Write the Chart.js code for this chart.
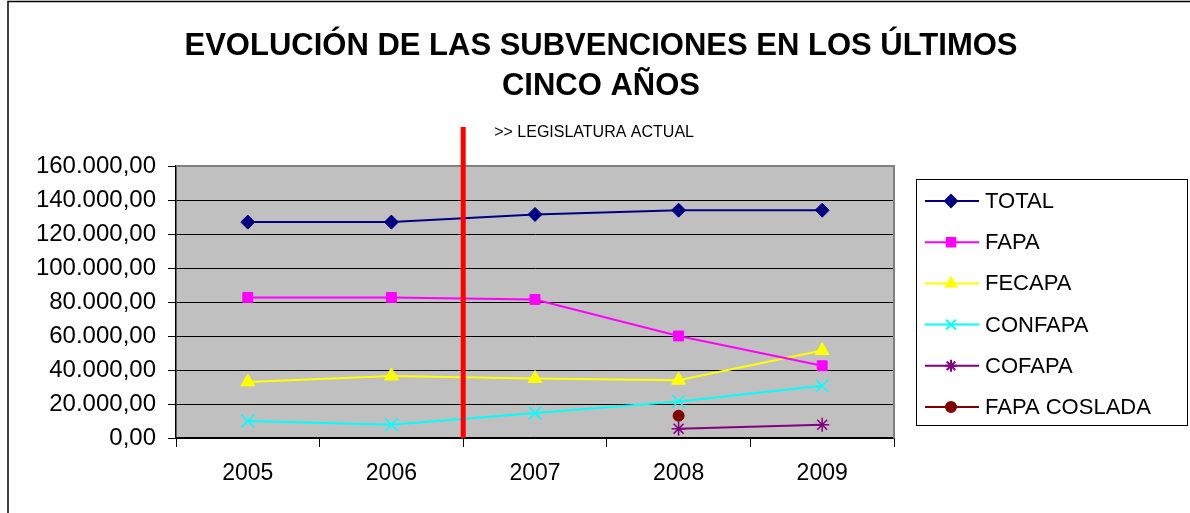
<!DOCTYPE html>
<html>
<head>
<meta charset="utf-8">
<script src="https://cdn.jsdelivr.net/npm/chart.js@4.4.0/dist/chart.umd.min.js"></script>
<style>
  html, body { margin: 0; padding: 0; background: #fff; }
  #wrap { width: 1190px; height: 513px; }
</style>
</head>
<body>
<div id="wrap"><canvas id="chart" width="1190" height="513"></canvas></div>
<script>
// datos
const years = ['2005', '2006', '2007', '2008', '2009'];
const total = [127000, 127000, 131500, 134000, 134000];
const fapa = [82700, 82700, 81500, 60000, 42500];
const fecapa = [33000, 36500, 35000, 34000, 51500];
const confapa = [10000, 7800, 14700, 21500, 30800];
const cofapa = [null, null, null, 5500, 7800];
const fapaCoslada = [null, null, null, 13100, null];
const yTicks = [0, 20000, 40000, 60000, 80000, 100000, 120000, 140000, 160000];

const titleLines = ['EVOLUCIÓN DE LAS SUBVENCIONES EN LOS ÚLTIMOS', 'CINCO AÑOS'];
const noteText = '>> LEGISLATURA ACTUAL';

// 160000 -> "160.000,00"
function fmt(v) {
  const s = Math.round(v).toString().replace(/\B(?=(\d{3})+(?!\d))/g, '.');
  return s + ',00';
}

function ds(label, data, color, style, radius) {
  return {
    label: label,
    data: data,
    borderColor: color,
    backgroundColor: color,
    borderWidth: 2,
    pointStyle: style,
    pointRadius: radius,
    pointHoverRadius: radius,
    pointBorderWidth: (style === 'crossRot' || style === 'star') ? 1.5 : 1,
    tension: 0,
    spanGaps: false
  };
}

const datasets = [
  ds('TOTAL', total, '#000080', 'rectRot', 7),
  ds('FAPA', fapa, '#FF00FF', 'rect', 7),
  ds('FECAPA', fecapa, '#FFFF00', 'triangle', 8),
  ds('CONFAPA', confapa, '#00FFFF', 'crossRot', 9),
  ds('COFAPA', cofapa, '#800080', 'star', 7),
  ds('FAPA COSLADA', fapaCoslada, '#800000', 'circle', 5.5)
];

const FONT = 'Arial, "Liberation Sans", sans-serif';

// fondo gris del area de trazado, marco y titulo
const decor = {
  id: 'decor',
  beforeDraw(chart) {
    const { ctx, chartArea: a } = chart;
    ctx.save();
    ctx.fillStyle = '#fff';
    ctx.fillRect(0, 0, chart.width, chart.height);
    ctx.fillStyle = '#C0C0C0';
    ctx.fillRect(a.left, a.top, a.right - a.left, a.bottom - a.top);
    // borde exterior
    ctx.strokeStyle = '#000';
    ctx.lineWidth = 1.5;
    ctx.strokeRect(8, 1.5, chart.width + 20, chart.height + 20);
    ctx.restore();
  },
  afterDatasetsDraw(chart) {
    const { ctx, chartArea: a, scales } = chart;
    const x = scales.x;
    ctx.save();
    // borde gris arriba y derecha
    ctx.strokeStyle = '#808080';
    ctx.lineWidth = 2;
    ctx.beginPath();
    ctx.moveTo(a.left, a.top);
    ctx.lineTo(a.right, a.top);
    ctx.lineTo(a.right, a.bottom);
    ctx.stroke();

    // linea roja entre 2006 y 2007
    const xr = (x.getPixelForValue(1) + x.getPixelForValue(2)) / 2;
    ctx.strokeStyle = '#FF0000';
    ctx.lineWidth = 5;
    ctx.beginPath();
    ctx.moveTo(xr, 127);
    ctx.lineTo(xr, a.bottom);
    ctx.stroke();

    ctx.fillStyle = '#000';
    ctx.font = '16px ' + FONT;
    ctx.textAlign = 'left';
    ctx.textBaseline = 'middle';
    ctx.fillText(noteText, xr + 31, 133);

    // titulo
    ctx.font = 'bold 31px ' + FONT;
    ctx.textAlign = 'center';
    ctx.fillText(titleLines[0], 601, 46);
    ctx.fillText(titleLines[1], 601, 86);
    ctx.restore();
  }
};

// leyenda a la derecha
const legendBox = {
  id: 'legendBox',
  afterDraw(chart) {
    const { ctx } = chart;
    const bx = 916, by = 179, bw = 271, bh = 246;
    ctx.save();
    ctx.fillStyle = '#fff';
    ctx.fillRect(bx, by, bw, bh);
    ctx.strokeStyle = '#000';
    ctx.lineWidth = 1;
    ctx.strokeRect(bx + 0.5, by + 0.5, bw, bh);
    ctx.font = '22px ' + FONT;
    ctx.textBaseline = 'middle';
    ctx.textAlign = 'left';
    chart.data.datasets.forEach((d, i) => {
      const cy = 201 + i * 41.2;
      ctx.strokeStyle = d.borderColor;
      ctx.lineWidth = 2;
      ctx.beginPath();
      ctx.moveTo(925, cy);
      ctx.lineTo(979, cy);
      ctx.stroke();
      const r = d.pointStyle === 'circle' ? 5 : (d.pointStyle === 'crossRot' ? 7 : 6);
      Chart.helpers.drawPoint(ctx, {
        pointStyle: d.pointStyle,
        radius: r,
        rotation: 0,
        borderWidth: d.pointBorderWidth
      }, 951, cy);
      ctx.fillStyle = d.borderColor;
      ctx.strokeStyle = d.borderColor;
      ctx.fill();
      ctx.fillStyle = '#000';
      ctx.fillText(d.label, 985, cy + 1);
    });
    ctx.restore();
  }
};

new Chart(document.getElementById('chart'), {
  type: 'line',
  data: { labels: years, datasets: datasets },
  options: {
    responsive: false,
    animation: false,
    events: [],
    layout: { padding: { top: 166, right: 296, left: 0, bottom: 0 } },
    plugins: {
      legend: { display: false },
      title: { display: false },
      tooltip: { enabled: false }
    },
    scales: {
      x: {
        type: 'category',
        offset: true,
        grid: {
          offset: true,
          drawOnChartArea: false,
          drawTicks: true,
          tickLength: 9,
          color: '#000'
        },
        border: { color: '#000', width: 1.5 },
        ticks: {
          color: '#000',
          font: { family: FONT, size: 23 },
          padding: 13
        },
        afterFit(s) { s.height = 75; }
      },
      y: {
        min: 0,
        max: 160000,
        afterBuildTicks(s) { s.ticks = yTicks.map(v => ({ value: v })); },
        grid: {
          color: '#000',
          lineWidth: 1,
          drawTicks: true,
          tickLength: 8
        },
        border: { color: '#000', width: 1.5 },
        ticks: {
          color: '#000',
          font: { family: FONT, size: 24 },
          padding: 12,
          callback: v => fmt(v)
        },
        afterFit(s) { s.width = 176; }
      }
    }
  },
  plugins: [decor, legendBox]
});
</script>
</body>
</html>
